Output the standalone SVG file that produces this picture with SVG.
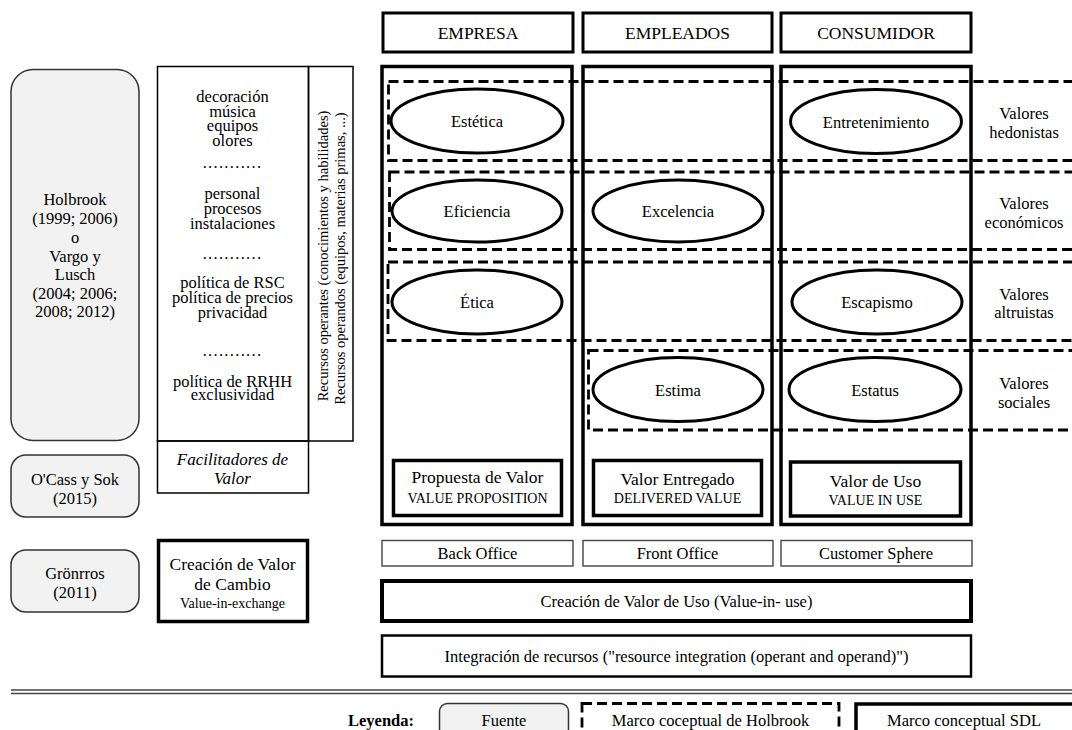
<svg xmlns="http://www.w3.org/2000/svg" width="1072" height="730" viewBox="0 0 1072 730">
<style>
text{font-family:"Liberation Serif","Times New Roman",serif;fill:#000;text-anchor:middle}
.t{font-size:16.5px}
.h{font-size:17.5px}
.s{font-size:14px}
.v{font-size:14.5px}
.it{font-size:17px;font-style:italic}
.b{font-weight:bold;font-size:16.5px}
.src{fill:#f2f2f2;stroke:#333;stroke-width:1.5}
.thin{fill:none;stroke:#000;stroke-width:1.5}
.gray{fill:none;stroke:#444;stroke-width:1.4}
.hdr{fill:#fff;stroke:#000;stroke-width:3}
.col{fill:none;stroke:#000;stroke-width:3.5}
.bx{fill:#fff;stroke:#000;stroke-width:3.5}
.dash{fill:none;stroke:#000;stroke-width:2.8;stroke-dasharray:10 5}
.ell{fill:#fff;stroke:#000;stroke-width:3}
.sep{stroke:#444;stroke-width:1.6}
</style>
<rect width="1072" height="730" fill="#fff"/>

<!-- headers -->
<g id="hdr-empresa"><rect class="hdr" x="383" y="13" width="190" height="39"/><text class="h" x="478" y="39">EMPRESA</text></g>
<g id="hdr-empleados"><rect class="hdr" x="583" y="13" width="189" height="39"/><text class="h" x="677.5" y="39">EMPLEADOS</text></g>
<g id="hdr-consumidor"><rect class="hdr" x="781" y="13" width="190" height="39"/><text class="h" x="876" y="39">CONSUMIDOR</text></g>

<!-- left sources -->
<g id="src-holbrook">
<rect class="src" x="11" y="69.5" width="128" height="371" rx="22"/>
<text class="t" x="75" y="205">Holbrook</text>
<text class="t" x="75" y="224">(1999; 2006)</text>
<text class="t" x="75" y="243">o</text>
<text class="t" x="75" y="262">Vargo y</text>
<text class="t" x="75" y="280">Lusch</text>
<text class="t" x="75" y="299">(2004; 2006;</text>
<text class="t" x="75" y="317">2008; 2012)</text>
</g>
<g id="src-ocass">
<rect class="src" x="11" y="455" width="128" height="62" rx="15"/>
<text class="t" x="75" y="484.5">O'Cass y Sok</text>
<text class="t" x="75" y="503.5">(2015)</text>
</g>
<g id="src-gronrros">
<rect class="src" x="11" y="550" width="128" height="62" rx="15"/>
<text class="t" x="75" y="578.5">Grönrros</text>
<text class="t" x="75" y="598">(2011)</text>
</g>

<!-- resources list -->
<g id="recursos">
<rect class="thin" x="157.5" y="66.5" width="151" height="374.5"/>
<text class="t" x="232.5" y="101.5">decoración</text>
<text class="t" x="232.5" y="116.5">música</text>
<text class="t" x="232.5" y="131">equipos</text>
<text class="t" x="232.5" y="146">olores</text>
<text class="t" x="232.5" y="168" letter-spacing="1.3">...........</text>
<text class="t" x="232.5" y="199">personal</text>
<text class="t" x="232.5" y="213.5">procesos</text>
<text class="t" x="232.5" y="229">instalaciones</text>
<text class="t" x="232.5" y="259" letter-spacing="1.3">...........</text>
<text class="t" x="232.5" y="288">política de RSC</text>
<text class="t" x="232.5" y="303">política de precios</text>
<text class="t" x="232.5" y="318">privacidad</text>
<text class="t" x="232.5" y="356" letter-spacing="1.3">...........</text>
<text class="t" x="232.5" y="387">política de RRHH</text>
<text class="t" x="232.5" y="400">exclusividad</text>
</g>
<g id="recursos-tipos">
<rect class="thin" x="308.5" y="66.5" width="44.5" height="374.5"/>
<text class="v" transform="translate(327.5,256) rotate(-90)">Recursos operantes (conocimientos y habilidades)</text>
<text class="v" transform="translate(344.5,258.5) rotate(-90)">Recursos operandos (equipos, materias primas, ...)</text>
</g>
<g id="facilitadores">
<rect class="thin" x="157.5" y="441" width="151" height="52"/>
<text class="it" x="232.5" y="465">Facilitadores de</text>
<text class="it" x="232.5" y="484">Valor</text>
</g>
<g id="valor-cambio">
<rect class="bx" x="158.5" y="540.5" width="149" height="81"/>
<text class="h" x="232.5" y="569.5">Creación de Valor</text>
<text class="h" x="232.5" y="589.5">de Cambio</text>
<text class="s" x="232.5" y="607.5">Value-in-exchange</text>
</g>

<!-- columns -->
<g id="col-empresa"><rect class="col" x="382" y="66.5" width="190" height="458"/></g>
<g id="col-empleados"><rect class="col" x="583" y="66.5" width="189" height="458"/></g>
<g id="col-consumidor"><rect class="col" x="781" y="66.5" width="190" height="458"/></g>

<!-- Holbrook frames -->
<g id="frame-hedonistas"><rect class="dash" x="388.5" y="81.5" width="700" height="79"/>
<text class="t" x="1024" y="119">Valores</text><text class="t" x="1024" y="138">hedonistas</text></g>
<g id="frame-economicos"><rect class="dash" x="389.5" y="172" width="700" height="77.5"/>
<text class="t" x="1024" y="209">Valores</text><text class="t" x="1024" y="228">económicos</text></g>
<g id="frame-altruistas"><rect class="dash" x="388" y="262" width="700" height="78.5"/>
<text class="t" x="1024" y="300">Valores</text><text class="t" x="1024" y="318">altruistas</text></g>
<g id="frame-sociales"><rect class="dash" x="588.5" y="350.5" width="500" height="79.5"/>
<text class="t" x="1024" y="389">Valores</text><text class="t" x="1024" y="408">sociales</text></g>

<!-- ellipses -->
<g id="e-estetica"><ellipse class="ell" cx="477" cy="121" rx="86" ry="32"/><text class="t" x="477" y="127">Estética</text></g>
<g id="e-entretenimiento"><ellipse class="ell" cx="876" cy="121.5" rx="85.5" ry="32"/><text class="t" x="876" y="127.5">Entretenimiento</text></g>
<g id="e-eficiencia"><ellipse class="ell" cx="477" cy="211" rx="85" ry="31"/><text class="t" x="477" y="217">Eficiencia</text></g>
<g id="e-excelencia"><ellipse class="ell" cx="678" cy="211" rx="85" ry="31"/><text class="t" x="678" y="217">Excelencia</text></g>
<g id="e-etica"><ellipse class="ell" cx="477" cy="302" rx="85" ry="32"/><text class="t" x="477" y="308">Ética</text></g>
<g id="e-escapismo"><ellipse class="ell" cx="877" cy="302" rx="85" ry="32"/><text class="t" x="877" y="308">Escapismo</text></g>
<g id="e-estima"><ellipse class="ell" cx="678" cy="389.5" rx="85" ry="32"/><text class="t" x="678" y="395.5">Estima</text></g>
<g id="e-estatus"><ellipse class="ell" cx="875" cy="389.5" rx="86" ry="32"/><text class="t" x="875" y="395.5">Estatus</text></g>

<!-- value boxes -->
<g id="propuesta"><rect class="bx" x="393.5" y="460.5" width="168" height="55"/>
<text class="h" x="477.5" y="483">Propuesta de Valor</text><text class="s" x="477.5" y="502.5">VALUE  PROPOSITION</text></g>
<g id="entregado"><rect class="bx" x="593.5" y="460.5" width="168" height="55"/>
<text class="h" x="677.5" y="485">Valor Entregado</text><text class="s" x="677.5" y="503">DELIVERED  VALUE</text></g>
<g id="uso"><rect class="bx" x="790.5" y="462" width="170" height="54"/>
<text class="h" x="875.5" y="487">Valor de Uso</text><text class="s" x="875.5" y="505">VALUE  IN USE</text></g>

<!-- spheres -->
<g id="back-office"><rect class="gray" x="382" y="540.5" width="191" height="25.5"/><text class="t" x="477.5" y="558.5">Back Office</text></g>
<g id="front-office"><rect class="gray" x="583" y="540.5" width="190" height="25.5"/><text class="t" x="677.5" y="558.5">Front Office</text></g>
<g id="customer-sphere"><rect class="gray" x="781" y="540.5" width="191" height="25.5"/><text class="t" x="876" y="558.5">Customer Sphere</text></g>

<g id="valor-uso-creacion"><rect fill="#fff" stroke="#000" stroke-width="4" x="382" y="581" width="589" height="40"/>
<text class="t" x="676.5" y="607">Creación de Valor de Uso (Value-in- use)</text></g>
<g id="integracion"><rect fill="#fff" stroke="#000" stroke-width="2.5" x="382" y="635.5" width="589" height="41"/>
<text class="t" x="676.5" y="661.5">Integración de recursos ("resource integration (operant and operand)")</text></g>

<!-- connectors (none) -->
<g id="connectors"></g>

<!-- separator -->
<g id="separator"><line class="sep" x1="11" y1="690" x2="1072" y2="690"/><line class="sep" x1="11" y1="693.5" x2="1072" y2="693.5"/></g>

<!-- legend -->
<g id="legend">
<text class="b" x="381" y="725.5">Leyenda:</text>
<rect class="src" x="439.5" y="703.5" width="129" height="40" rx="8"/>
<text class="t" x="504" y="725.5">Fuente</text>
<rect class="dash" x="582" y="703.5" width="257" height="40"/>
<text class="t" x="710.5" y="725.5">Marco coceptual de Holbrook</text>
<rect fill="#fff" stroke="#000" stroke-width="3.5" x="856" y="704" width="230" height="40"/>
<text class="t" x="964" y="725.5">Marco conceptual SDL</text>
</g>
</svg>
